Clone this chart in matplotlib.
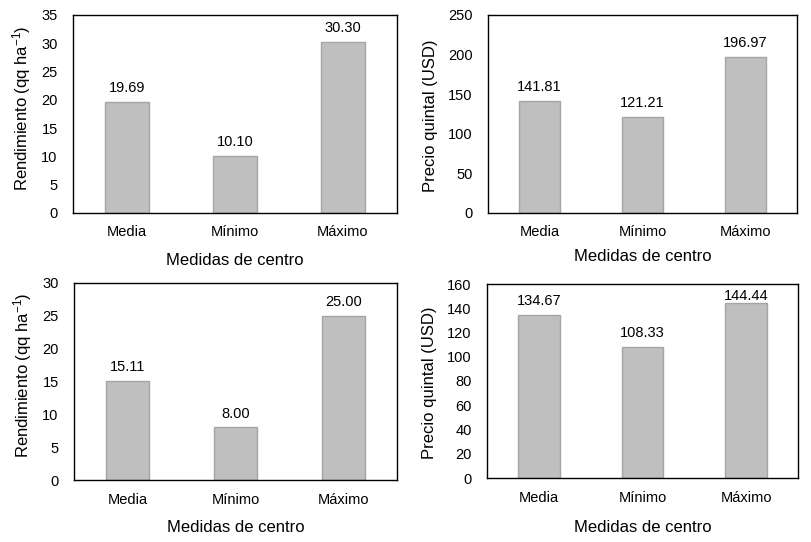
import matplotlib
matplotlib.use("Agg")
import matplotlib.pyplot as plt

plt.rcParams['font.family'] = ['Liberation Sans', 'DejaVu Sans']
plt.rcParams['mathtext.fontset'] = 'custom'
plt.rcParams['mathtext.rm'] = 'Liberation Sans'
plt.rcParams['mathtext.it'] = 'Liberation Sans:italic'
plt.rcParams['mathtext.bf'] = 'Liberation Sans:bold'

categories = ["Media", "Mínimo", "Máximo"]
rend_top = [19.69, 10.10, 30.30]
precio_top = [141.81, 121.21, 196.97]
rend_bottom = [15.11, 8.00, 25.00]
precio_bottom = [134.67, 108.33, 144.44]

ylabel_rend = "Rendimiento (qq ha$^{-1}$)"
ylabel_precio = "Precio quintal (USD)"
xlabel = "Medidas de centro"

W, H = 811, 542
fig = plt.figure(figsize=(W / 100, H / 100), dpi=100)

panels = [
    # values, ylabel, ymax, ystep, box (left,right,top,bottom px), ylabelpad, ylabel y, xlabelpad
    (rend_top, ylabel_rend, 35, 5, (73, 397, 15, 213), 6, 0.53, 10),
    (precio_top, ylabel_precio, 250, 50, (488, 797, 15, 213), 7, 0.49, 7),
    (rend_bottom, ylabel_rend, 30, 5, (74, 397, 283, 480), 6, 0.53, 10),
    (precio_bottom, ylabel_precio, 160, 20, (487, 798, 284, 478), 7, 0.49, 11),
]

for vals, ylab, ymax, ystep, (l, r, t, b), ylp, ly, xlp in panels:
    ax = fig.add_axes([l / W, 1 - b / H, (r - l) / W, (b - t) / H])
    x = range(len(categories))
    ax.bar(x, vals, width=0.4, color="#bfbfbf", edgecolor="#a5a5a5", linewidth=1.0)
    ax.set_xlim(-0.5, len(categories) - 0.5)
    ax.set_ylim(0, ymax)
    ax.set_yticks(range(0, ymax + 1, ystep))
    ax.set_xticks(list(x))
    ax.set_xticklabels(categories)
    ax.tick_params(axis="both", length=0, labelsize=10.5, colors="#000000")
    ax.tick_params(axis="y", pad=11)
    ax.tick_params(axis="x", pad=9)
    for sp in ax.spines.values():
        sp.set_color("#000000")
        sp.set_linewidth(1.0)
    for xi, v in zip(x, vals):
        # keep the label inside the plot area, as the original does
        off = 5 if v / ymax < 0.88 else 0
        ax.annotate(f"{v:.2f}", (xi, v), xytext=(0, off), textcoords="offset points",
                    ha="center", va="bottom", fontsize=10.5)
    ax.set_xlabel(xlabel, fontsize=12, labelpad=xlp)
    ax.set_ylabel(ylab, fontsize=12, labelpad=ylp)
    ax.yaxis.label.set_y(ly)

fig.savefig("out.png", dpi=100)
